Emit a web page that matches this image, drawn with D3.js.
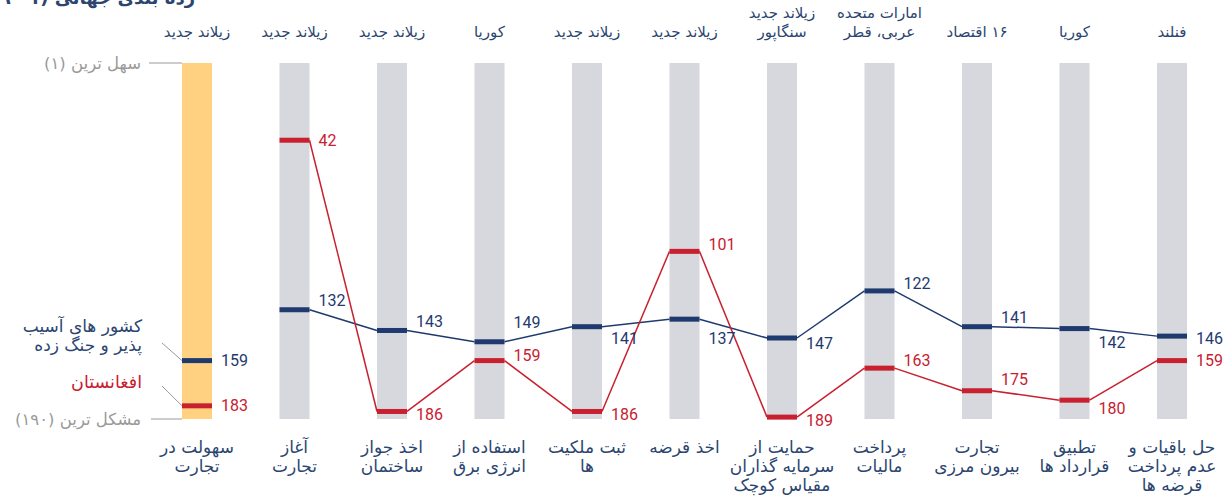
<!DOCTYPE html>
<html>
<head>
<meta charset="utf-8">
<script src="https://cdn.jsdelivr.net/npm/d3@7"></script>
<style>
  body { margin: 0; background: #fff; }
  text { font-family: Roboto, "DejaVu Sans", sans-serif; }
  .fa { direction: rtl; font-family: "DejaVu Sans", sans-serif; }
</style>
</head>
<body>
<script>
// indicator names (bottom), best performer (top)
var indicators = [
  ["سهولت در", "تجارت"],
  ["آغاز", "تجارت"],
  ["اخذ جواز", "ساختمان"],
  ["استفاده از", "انرژی برق"],
  ["ثبت ملکیت", "ها"],
  ["اخذ قرضه"],
  ["حمایت از", "سرمایه گذاران", "مقیاس کوچک"],
  ["پرداخت", "مالیات"],
  ["تجارت", "بیرون مرزی"],
  ["تطبیق", "قرارداد ها"],
  ["حل باقیات و", "عدم پرداخت", "قرضه ها"]
];
var bestPerformer = [
  ["زیلاند جدید"],
  ["زیلاند جدید"],
  ["زیلاند جدید"],
  ["کوریا"],
  ["زیلاند جدید"],
  ["زیلاند جدید"],
  ["زیلاند جدید", "سنگاپور"],
  ["امارات متحده", "عربی، قطر"],
  ["۱۶ اقتصاد"],
  ["کوریا"],
  ["فنلند"]
];
var fragileRank = [159, 132, 143, 149, 141, 137, 147, 122, 141, 142, 146];
var afghanRank  = [183, 42, 186, 159, 186, 101, 189, 163, 175, 180, 159];

// label vertical nudges (layout only)
var fragileDy = [0, -9, -9, -19, 12, 19, 5, -8, -9, 14, 2];
var afghanDy  = [0, 0, 3, -5, 3, -7, 3, -8, -11, 8, 0];

var width = 1232, height = 498;
var navy = "#1f3a6e", red = "#c8202f", grey = "#9a9a9a", textNavy = "#2b4570";

var svg = d3.select("body").append("svg")
  .attr("width", width)
  .attr("height", height);

var x = d3.scalePoint()
  .domain(d3.range(indicators.length))
  .range([197, 1172]);
var y = d3.scaleLinear().domain([1, 190]).range([63, 419]);
var bw = 30;

// title (cut off at top, as in the source)
svg.append("text")
  .attr("class", "fa")
  .attr("x", 195).attr("y", 4)
  .attr("text-anchor", "start")
  .attr("font-size", 18).attr("font-weight", "bold")
  .attr("fill", textNavy)
  .text("رده بندی جهانی (۱-۱۹۰)");

// column bars
svg.selectAll("rect.col")
  .data(indicators)
  .enter().append("rect")
  .attr("class", "col")
  .attr("x", function(d, i) { return x(i) - bw / 2; })
  .attr("y", y(1))
  .attr("width", bw)
  .attr("height", y(190) - y(1))
  .attr("fill", function(d, i) { return i === 0 ? "#ffd180" : "#d7d8dd"; });

// connecting lines (skip the overall column)
function drawLine(ranks, color) {
  for (var i = 1; i < ranks.length - 1; i++) {
    svg.append("line")
      .attr("x1", x(i) + bw / 2).attr("y1", y(ranks[i]))
      .attr("x2", x(i + 1) - bw / 2).attr("y2", y(ranks[i + 1]))
      .attr("stroke", color).attr("stroke-width", 1.5);
  }
}
drawLine(fragileRank, navy);
drawLine(afghanRank, red);

function drawMarks(ranks, dys, color) {
  svg.selectAll(null)
    .data(ranks)
    .enter().append("rect")
    .attr("x", function(d, i) { return x(i) - bw / 2; })
    .attr("y", function(d) { return y(d) - 2.5; })
    .attr("width", bw)
    .attr("height", 5)
    .attr("fill", color);
  svg.selectAll(null)
    .data(ranks)
    .enter().append("text")
    .attr("x", function(d, i) { return x(i) + bw / 2 + 9; })
    .attr("y", function(d, i) { return y(d) + dys[i]; })
    .attr("dy", "0.35em")
    .attr("font-size", 16)
    .attr("fill", color)
    .text(function(d) { return d; });
}
drawMarks(fragileRank, fragileDy, navy);
drawMarks(afghanRank, afghanDy, red);

// top labels
bestPerformer.forEach(function(lines, i) {
  var t = svg.append("text")
    .attr("class", "fa")
    .attr("text-anchor", "middle")
    .attr("font-size", 15)
    .attr("fill", textNavy);
  var y0 = 37 - (lines.length - 1) * 19;
  lines.forEach(function(s, k) {
    t.append("tspan").attr("x", x(i)).attr("y", y0 + k * 19).text(s);
  });
});

// bottom labels
indicators.forEach(function(lines, i) {
  var t = svg.append("text")
    .attr("class", "fa")
    .attr("text-anchor", "middle")
    .attr("font-size", 17)
    .attr("fill", textNavy);
  lines.forEach(function(s, k) {
    t.append("tspan").attr("x", x(i)).attr("y", 453 + k * 19).text(s);
  });
});

// left annotations
var left = x(0) - bw / 2;
svg.append("line").attr("x1", 149).attr("x2", left)
  .attr("y1", y(1)).attr("y2", y(1)).attr("stroke", grey);
svg.append("text").attr("class", "fa")
  .attr("x", 141).attr("y", y(1)).attr("dy", "0.35em")
  .attr("text-anchor", "start").attr("font-size", 16.5).attr("fill", grey)
  .text("سهل ترین (۱)");
svg.append("line").attr("x1", 151).attr("x2", left)
  .attr("y1", y(190)).attr("y2", y(190)).attr("stroke", grey);
svg.append("text").attr("class", "fa")
  .attr("x", 141).attr("y", y(190)).attr("dy", "0.35em")
  .attr("text-anchor", "start").attr("font-size", 16.5).attr("fill", grey)
  .text("مشکل ترین (۱۹۰)");

var fragLabel = svg.append("text").attr("class", "fa")
  .attr("text-anchor", "start").attr("font-size", 17).attr("fill", textNavy);
fragLabel.append("tspan").attr("x", 142).attr("y", 332).text("کشور های آسیب");
fragLabel.append("tspan").attr("x", 142).attr("y", 351).text("پذیر و جنگ زده");
svg.append("line")
  .attr("x1", 162).attr("y1", 343)
  .attr("x2", left).attr("y2", y(fragileRank[0]))
  .attr("stroke", grey);

svg.append("text").attr("class", "fa")
  .attr("x", 142).attr("y", 388)
  .attr("text-anchor", "start").attr("font-size", 17.5).attr("fill", red)
  .text("افغانستان");
svg.append("line")
  .attr("x1", 162).attr("y1", 386)
  .attr("x2", left).attr("y2", y(afghanRank[0]))
  .attr("stroke", grey);
</script>
</body>
</html>
